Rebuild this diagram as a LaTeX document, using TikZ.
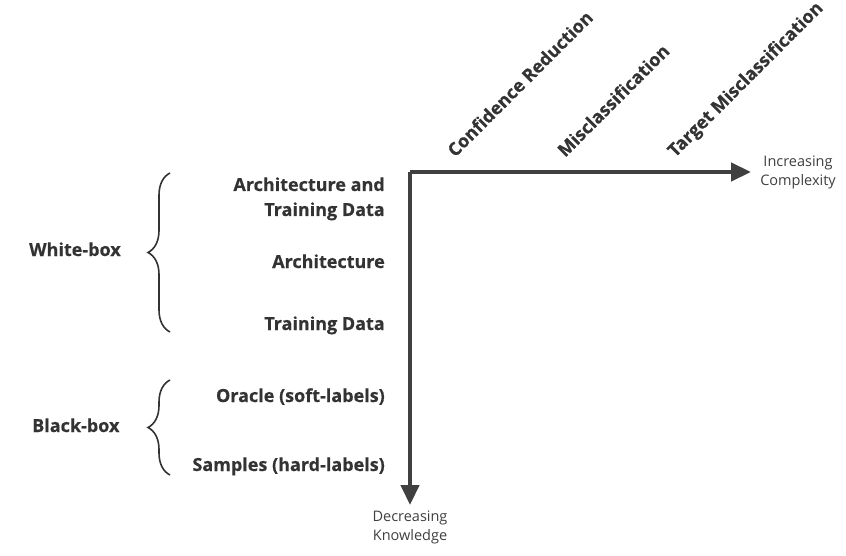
\documentclass[tikz,border=0pt]{standalone}
\usepackage{fontspec}
\setmainfont{Open Sans}[BoldFeatures={FakeBold=0.4}]
\usetikzlibrary{arrows.meta,decorations.pathreplacing}
\definecolor{ink}{HTML}{333333}
\definecolor{axis}{HTML}{404040}
\tikzset{
  lbl/.style={text=ink,font=\bfseries\fontsize{18}{25}\selectfont,inner sep=0pt},
  rot/.style={text=ink,font=\bfseries\fontsize{18}{20}\selectfont,inner sep=0pt,rotate=45,anchor=base west},
  small/.style={text=axis,font=\fontsize{14.5}{19}\selectfont,inner sep=0pt,align=center},
  axisline/.style={draw=axis,line width=4.5pt,-{Triangle[length=20pt,width=18pt]}},
  bracestyle/.style={draw=ink,line width=1.6pt,decorate,decoration={brace,amplitude=22pt,aspect=0.5}}
}
\begin{document}
\begin{tikzpicture}[x=1pt,y=-1pt]
\fill[white] (0,0) rectangle (846,556);
\useasboundingbox (0,0) rectangle (846,556);
% axes
\coordinate (O) at (410,172);
\node[small] (cx) at (798,172) {Increasing\\Complexity};
\node[small] (kn) at (410,527) {Decreasing\\Knowledge};
\coordinate (xe) at (751,172);
\coordinate (ye) at (410,505);
\draw[axisline] (O) -- (xe);
\draw[axis,line width=4.5pt] ([yshift=-2.25pt]O) -- (O);
\draw[axisline] ([yshift=-2.25pt]O) -- (ye);
% rotated labels
\node[rot] (cr) at (455,158) {Confidence Reduction};
\node[rot] (mc) at (565,158) {Misclassification};
\node[rot] (tm) at (675,158) {Target Misclassification};
% left labels
\node[lbl,anchor=base east] (atd1) at (385,191) {Architecture and};
\node[lbl,anchor=base east] (atd2) at (385,216) {Training Data};
\node[lbl,anchor=base east] (ar) at (385,268) {Architecture};
\node[lbl,anchor=base east] (td) at (385,330) {Training Data};
\node[lbl,anchor=base east] (or) at (385,402) {Oracle (soft-labels)};
\node[lbl,anchor=base east] (sa) at (385,471) {Samples (hard-labels)};
\node[lbl,anchor=base west] (wb) at (29,256) {White-box};
\node[lbl,anchor=base west] (bb) at (32,432) {Black-box};
% braces
\coordinate (w1) at (170,332);
\coordinate (w2) at (170,173);
\coordinate (b1) at (170,475);
\coordinate (b2) at (170,380);
\draw[bracestyle] (w1) -- (w2);
\draw[bracestyle] (b1) -- (b2);
\end{tikzpicture}
\end{document}
